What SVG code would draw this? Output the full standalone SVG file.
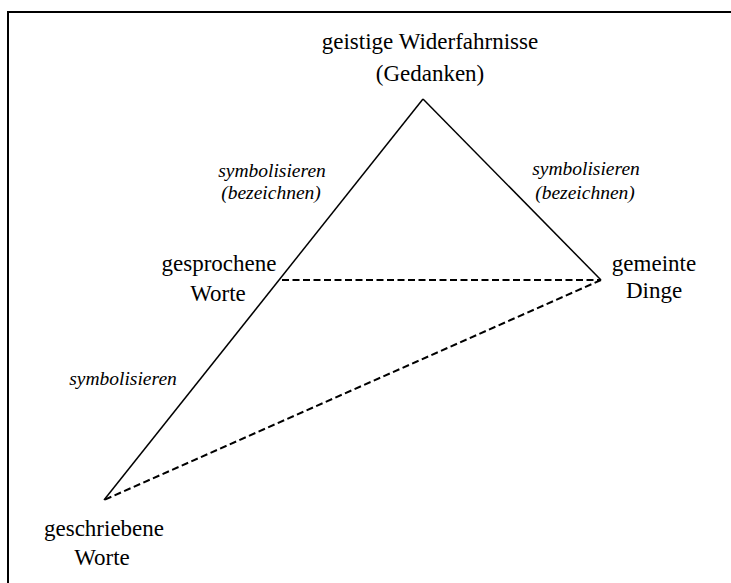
<svg xmlns="http://www.w3.org/2000/svg" width="731" height="583" viewBox="0 0 731 583">
  <style>
    text { font-family: "Liberation Serif", "Times New Roman", serif; fill: #000; text-anchor: middle; }
    .lbl { font-size: 23px; }
    .rel { font-size: 19.5px; font-style: italic; }
    .solid { fill: none; stroke: #000; stroke-width: 1.5; }
    .dash { fill: none; stroke: #000; stroke-width: 2; stroke-dasharray: 7 3.5; }
  </style>
  <rect width="731" height="583" fill="#fff"/>
  <!-- frame, continuing past the right and bottom edges -->
  <rect x="8" y="12" width="800" height="700" fill="none" stroke="#000" stroke-width="2"/>

  <g id="connectors">
    <line class="solid" x1="423" y1="99" x2="104" y2="500"/>
    <line class="solid" x1="423" y1="99" x2="601" y2="280"/>
    <line class="dash" x1="282" y1="280" x2="601" y2="280"/>
    <line class="dash" x1="601" y1="280" x2="104" y2="500"/>
  </g>

  <g id="gedanken">
    <text class="lbl" x="430" y="49">geistige Widerfahrnisse</text>
    <text class="lbl" x="430" y="81">(Gedanken)</text>
  </g>
  <g id="gesprochene-worte">
    <text class="lbl" x="219" y="271">gesprochene</text>
    <text class="lbl" x="218" y="301">Worte</text>
  </g>
  <g id="gemeinte-dinge">
    <text class="lbl" x="654" y="271">gemeinte</text>
    <text class="lbl" x="654" y="298">Dinge</text>
  </g>
  <g id="geschriebene-worte">
    <text class="lbl" x="104" y="536">geschriebene</text>
    <text class="lbl" x="102" y="565">Worte</text>
  </g>

  <g id="relation-labels">
    <text class="rel" x="272" y="177">symbolisieren</text>
    <text class="rel" x="271" y="199">(bezeichnen)</text>
    <text class="rel" x="586" y="175">symbolisieren</text>
    <text class="rel" x="585" y="199">(bezeichnen)</text>
    <text class="rel" x="123" y="385">symbolisieren</text>
  </g>
</svg>
